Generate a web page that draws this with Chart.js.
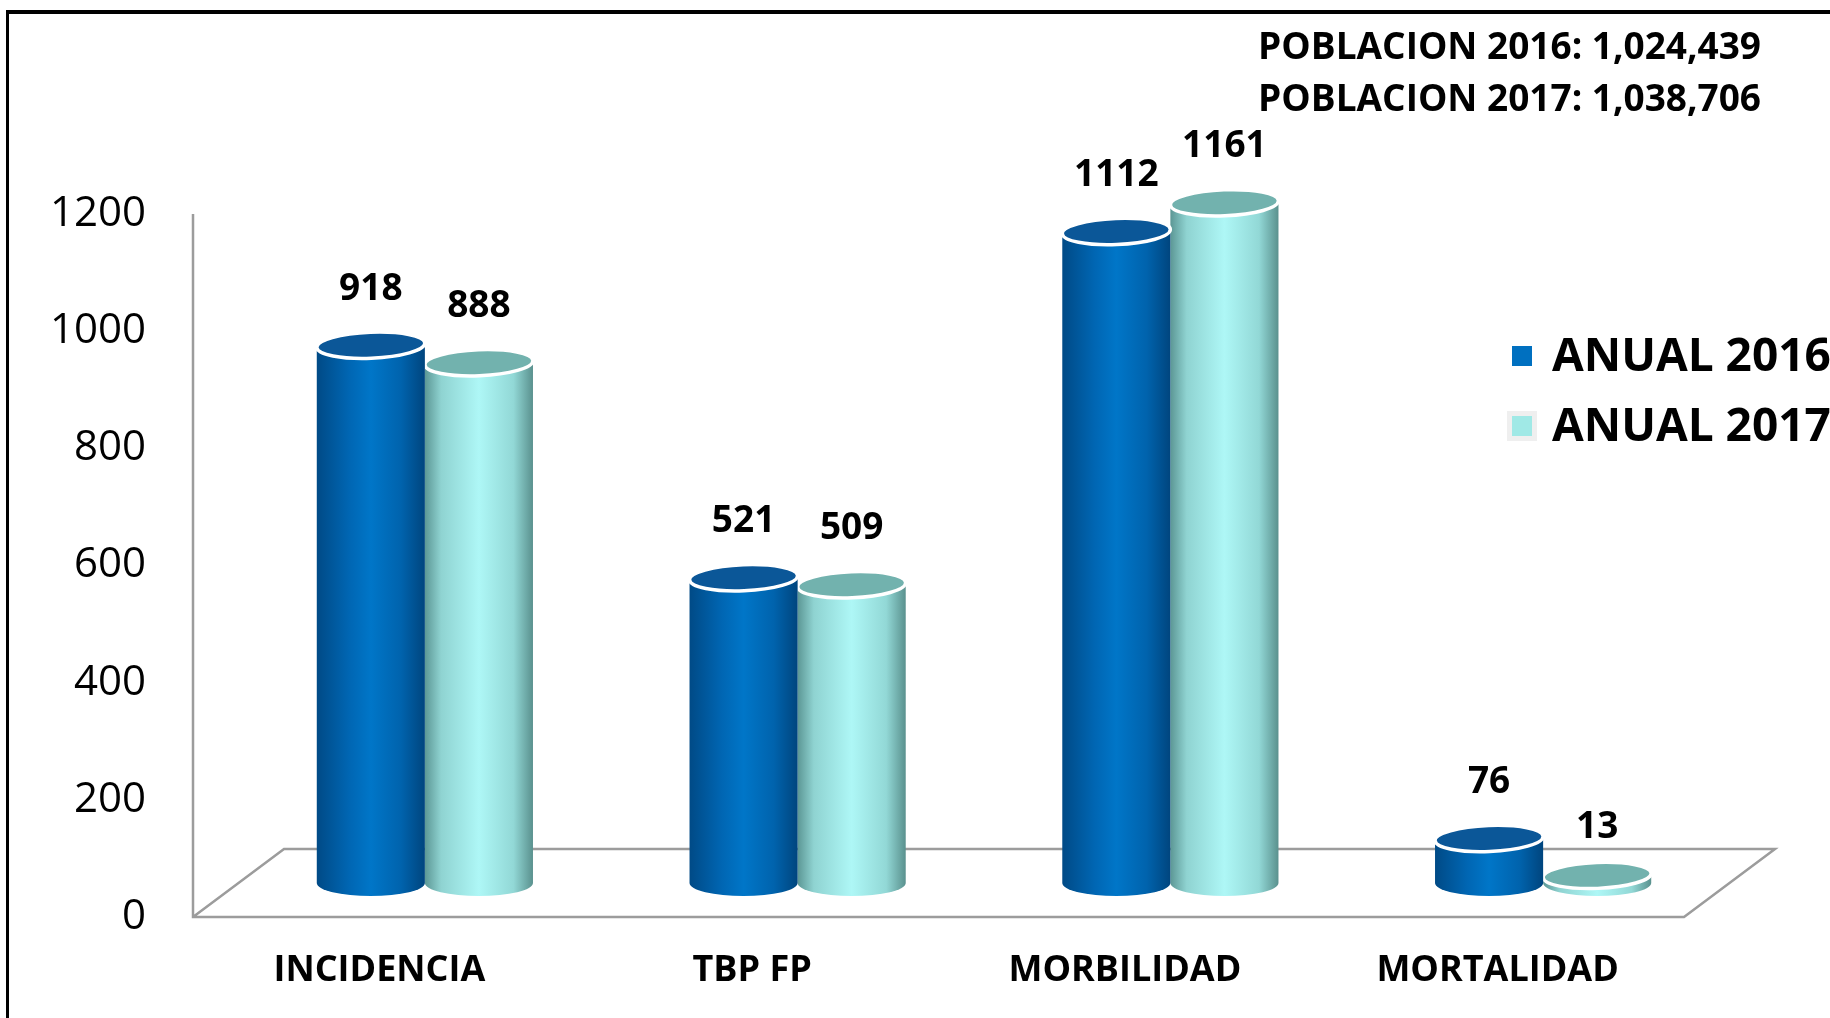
<!DOCTYPE html>
<html lang="es">
	<head>
		<meta charset="UTF-8" />
		<title>Anual 2016 / 2017</title>
		<script src="https://cdn.jsdelivr.net/npm/chart.js"></script>
		<style>
			body {
				margin: 0;
				background: #fff;
			}
			#wrap {
				width: 1830px;
				height: 1018px;
				position: relative;
			}
		</style>
	</head>
	<body>
		<div id="wrap"><canvas id="barChart"></canvas></div>

		<script>
			// data
			const categories = ["INCIDENCIA", "TBP FP", "MORBILIDAD", "MORTALIDAD"];
			const anual2016 = [918, 521, 1112, 76];
			const anual2017 = [888, 509, 1161, 13];
			const seriesNames = ["ANUAL 2016", "ANUAL 2017"];
			const yTicks = [0, 200, 400, 600, 800, 1000, 1200];
			const poblacion = ["POBLACION 2016: 1,024,439", "POBLACION 2017: 1,038,706"];

			const FONT = "'Open Sans', 'DejaVu Sans', sans-serif";
			const depth = { dx: 91, dy: 68 }; // 3d floor depth in px

			// cylinder looks for each series
			const looks = [
				{
					legend: "#0070c0",
					top: "#0b5798",
					stops: [[0, "#004a86"], [0.3, "#0066b3"], [0.5, "#0076c8"], [0.78, "#0063ad"], [1, "#00457e"]],
				},
				{
					legend: "#a0e9e6",
					top: "#72b2ae",
					stops: [[0, "#5c9795"], [0.15, "#8fd3d1"], [0.5, "#aef7f6"], [0.82, "#92d8d6"], [1, "#5a918e"]],
				},
			];

			function drawCylinder(ctx, bar, look) {
				const { x, y, base, width } = bar.getProps(["x", "y", "base", "width"], true);
				const left = x - width / 2;
				const rx = width / 2;
				const ry = 13;

				const g = ctx.createLinearGradient(left, 0, left + width, 0);
				look.stops.forEach((s) => g.addColorStop(s[0], s[1]));
				ctx.fillStyle = g;
				ctx.beginPath();
				ctx.moveTo(left, y);
				ctx.lineTo(left, base);
				ctx.ellipse(x, base, rx, ry, 0, Math.PI, 0, true);
				ctx.lineTo(left + width, y);
				ctx.closePath();
				ctx.fill();

				// top cap with white rim
				ctx.beginPath();
				ctx.ellipse(x, y, rx, ry, -0.04, 0, Math.PI * 2);
				ctx.fillStyle = look.top;
				ctx.fill();
				ctx.lineWidth = 3.5;
				ctx.strokeStyle = "#ffffff";
				ctx.stroke();
			}

			const cylinders = {
				id: "cylinders",
				beforeDraw(chart) {
					const ctx = chart.ctx;
					ctx.save();
					ctx.fillStyle = "#000";
					ctx.fillRect(6, 10, chart.width, 4); // frame top
					ctx.fillRect(6, 10, 3, chart.height); // frame left
					ctx.restore();
				},
				beforeDatasetsDraw(chart) {
					const { ctx, chartArea: a } = chart;
					ctx.save();
					ctx.strokeStyle = "#9c9c9c";
					ctx.lineWidth = 2.5;
					ctx.beginPath();
					ctx.moveTo(a.left, a.top);
					ctx.lineTo(a.left, a.bottom);
					ctx.lineTo(a.right, a.bottom);
					ctx.lineTo(a.right + depth.dx, a.bottom - depth.dy);
					ctx.lineTo(a.left + depth.dx, a.bottom - depth.dy);
					ctx.lineTo(a.left, a.bottom);
					ctx.stroke();
					ctx.restore();

					// bars stand half way into the floor
					ctx.save();
					ctx.translate(depth.dx / 2, -depth.dy / 2);
				},
				beforeDatasetDraw(chart, args) {
					const ctx = chart.ctx;
					const ds = chart.data.datasets[args.index];
					const look = looks[args.index];
					args.meta.data.forEach((bar, i) => {
						drawCylinder(ctx, bar, look);
						ctx.fillStyle = "#000";
						ctx.font = "bold 37px " + FONT;
						ctx.textAlign = "center";
						ctx.textBaseline = "middle";
						const lift = bar.base - bar.y < 30 ? 48 : 56;
						ctx.fillText(String(ds.data[i]), bar.x, bar.y - lift);
					});
					return false;
				},
				afterDatasetsDraw(chart) {
					chart.ctx.restore();
				},
				afterDraw(chart) {
					const ctx = chart.ctx;
					ctx.save();
					// population note
					ctx.fillStyle = "#000";
					ctx.font = "bold 37px " + FONT;
					ctx.textAlign = "right";
					ctx.textBaseline = "middle";
					poblacion.forEach((t, i) => ctx.fillText(t, 1761, 48 + i * 52));

					// legend
					ctx.textAlign = "left";
					ctx.font = "bold 46px " + FONT;
					chart.data.datasets.forEach((ds, i) => {
						const cy = 356 + i * 70;
						if (i === 1) {
							ctx.fillStyle = "#efefef";
							ctx.fillRect(1507, cy - 15, 30, 30);
						}
						ctx.fillStyle = looks[i].legend;
						ctx.fillRect(1512, cy - 10, 20, 20);
						ctx.fillStyle = "#000";
						ctx.fillText(ds.label, 1552, cy + 2);
					});
					ctx.restore();
				},
			};

			const ctx = document.getElementById("barChart").getContext("2d");
			new Chart(ctx, {
				type: "bar",
				data: {
					labels: categories,
					datasets: [
						{ label: seriesNames[0], data: anual2016, backgroundColor: looks[0].legend },
						{ label: seriesNames[1], data: anual2017, backgroundColor: looks[1].legend },
					],
				},
				options: {
					responsive: true,
					maintainAspectRatio: false,
					animation: false,
					categoryPercentage: 0.58,
					barPercentage: 1,
					layout: { padding: { top: 214, right: 146, bottom: 0, left: 0 } },
					plugins: {
						legend: { display: false },
						tooltip: { enabled: false },
					},
					scales: {
						x: {
							grid: { display: false, drawTicks: false },
							border: { display: false },
							ticks: {
								color: "#000",
								padding: 32,
								font: { family: FONT, size: 36, weight: "bold" },
							},
							afterFit(scale) {
								scale.height = 101;
							},
						},
						y: {
							min: yTicks[0],
							max: yTicks[yTicks.length - 1],
							grid: { display: false, drawTicks: false },
							border: { display: false },
							ticks: {
								stepSize: yTicks[1] - yTicks[0],
								color: "#000",
								padding: 47,
								font: { family: FONT, size: 42 },
								callback: (v) => String(v),
							},
							afterFit(scale) {
								scale.width = 193;
							},
						},
					},
				},
				plugins: [cylinders],
			});
		</script>
	</body>
</html>
